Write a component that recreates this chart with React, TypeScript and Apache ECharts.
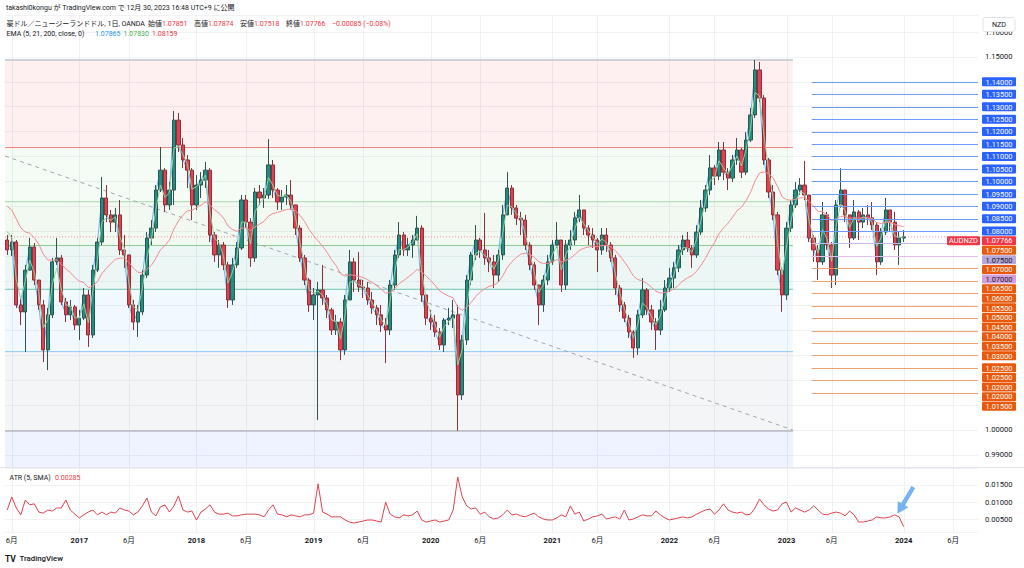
import React, { useEffect, useRef } from "react";
import * as echarts from "echarts";

const FONT = "Roboto, 'Noto Sans CJK JP', sans-serif";

// ---- two-week candle slots ----
const SLOT_START = "2016-05-13";
const SLOT_DAYS = 14;
const SLOT_COUNT = 216;
const TRADING_DAYS_PER_SLOT = 10;

const firstOpen = 1.0764;
const closes = [
  1.0724, 1.0756, 1.0503, 1.0475, 1.0643, 1.0736, 1.0603, 1.0503, 1.0322, 1.0463,
  1.0676, 1.0692, 1.0515, 1.0463, 1.0495, 1.0422, 1.045, 1.0543, 1.0382, 1.0643,
  1.0756, 1.0933, 1.0865, 1.0836, 1.0865, 1.0724, 1.0704, 1.0503, 1.0434, 1.0475,
  1.0623, 1.0772, 1.0812, 1.0965, 1.1045, 1.0905, 1.0965, 1.1246, 1.1146, 1.1086,
  1.1045, 1.0905, 1.0985, 1.1005, 1.1045, 1.0784, 1.0704, 1.0744, 1.0664, 1.0523,
  1.0664, 1.0732, 1.0925, 1.0836, 1.0692, 1.0957, 1.0933, 1.0945, 1.1066, 1.0965,
  1.0917, 1.0937, 1.0945, 1.0905, 1.0812, 1.0692, 1.0603, 1.0503, 1.0543, 1.0563,
  1.0531, 1.0483, 1.0402, 1.0434, 1.0322, 1.0523, 1.0676, 1.0603, 1.0575, 1.0571,
  1.0523, 1.0491, 1.0463, 1.0422, 1.0402, 1.0583, 1.0704, 1.0784, 1.0724, 1.0744,
  1.0764, 1.0812, 1.0543, 1.045, 1.0434, 1.0394, 1.0342, 1.0442, 1.045, 1.0463,
  1.0141, 1.0362, 1.0603, 1.0704, 1.0764, 1.0724, 1.0692, 1.0676, 1.0623, 1.0704,
  1.0865, 1.0973, 1.0893, 1.0852, 1.0844, 1.0744, 1.0664, 1.0583, 1.0503, 1.0603,
  1.0676, 1.0744, 1.0764, 1.0583, 1.0744, 1.0764, 1.0853, 1.0885, 1.0812, 1.0784,
  1.0764, 1.0724, 1.0784, 1.0744, 1.0692, 1.0571, 1.0503, 1.045, 1.0394, 1.033,
  1.0463, 1.0563, 1.0483, 1.0434, 1.0402, 1.0483, 1.0571, 1.0611, 1.0652, 1.0724,
  1.0764, 1.0732, 1.0704, 1.0796, 1.0893, 1.0965, 1.1054, 1.1021, 1.1126, 1.1037,
  1.1013, 1.1086, 1.1126, 1.1037, 1.1166, 1.1267, 1.1448, 1.1335, 1.1086, 1.0957,
  1.0865, 1.0643, 1.0543, 1.0812, 1.0905, 1.0965, 1.0985, 1.0945, 1.0772, 1.0724,
  1.0676, 1.0865, 1.0744, 1.0623, 1.0905, 1.0965, 1.0865, 1.0772, 1.0877, 1.0836,
  1.0865, 1.0853, 1.0824, 1.0676, 1.0796, 1.0885, 1.0836, 1.0744, 1.0772, 1.07766,
];
const highs = [
  1.0784, 1.0784, 1.0764, 1.0531, 1.0664, 1.0772, 1.0752, 1.0603, 1.0523, 1.0491,
  1.0692, 1.0772, 1.0704, 1.0531, 1.0523, 1.0503, 1.0483, 1.0571, 1.0563, 1.0664,
  1.0772, 1.1017, 1.0985, 1.0885, 1.0893, 1.0925, 1.0784, 1.0704, 1.0523, 1.0503,
  1.0643, 1.0796, 1.0844, 1.0985, 1.1138, 1.1053, 1.0997, 1.1283, 1.1275, 1.1174,
  1.1106, 1.1053, 1.1025, 1.1037, 1.1078, 1.1053, 1.0796, 1.0764, 1.0756, 1.0676,
  1.0692, 1.0756, 1.0945, 1.0945, 1.0852, 1.0973, 1.0985, 1.0973, 1.117, 1.1086,
  1.0973, 1.0965, 1.0985, 1.1005, 1.0905, 1.0824, 1.0704, 1.0611, 1.0571, 1.0595,
  1.0664, 1.0543, 1.0491, 1.0463, 1.045, 1.0543, 1.0724, 1.0692, 1.0716, 1.0603,
  1.0595, 1.0555, 1.0503, 1.0503, 1.045, 1.0603, 1.0724, 1.0836, 1.0796, 1.0772,
  1.0784, 1.0861, 1.0824, 1.0543, 1.0483, 1.0463, 1.041, 1.045, 1.0491, 1.0523,
  1.0503, 1.0382, 1.0623, 1.0716, 1.0824, 1.0772, 1.0873, 1.0724, 1.0704, 1.0724,
  1.0905, 1.1037, 1.0985, 1.0905, 1.0877, 1.0865, 1.0756, 1.0676, 1.0583, 1.0623,
  1.0704, 1.0764, 1.0836, 1.0764, 1.0764, 1.0804, 1.0877, 1.0945, 1.0885, 1.0824,
  1.0812, 1.0772, 1.0812, 1.0812, 1.0756, 1.0704, 1.0583, 1.0515, 1.0463, 1.0402,
  1.0483, 1.0611, 1.0571, 1.0503, 1.045, 1.0523, 1.0603, 1.0652, 1.0676, 1.0744,
  1.0784, 1.0796, 1.0744, 1.0824, 1.0925, 1.0985, 1.1106, 1.1066, 1.1158, 1.1158,
  1.1053, 1.1106, 1.1174, 1.1134, 1.1198, 1.1295, 1.1488, 1.148, 1.1347, 1.1094,
  1.0985, 1.0877, 1.0652, 1.0836, 1.0925, 1.0997, 1.1013, 1.1082, 1.0945, 1.0784,
  1.0744, 1.0917, 1.0877, 1.0756, 1.0925, 1.1053, 1.0965, 1.0865, 1.0925, 1.0885,
  1.0893, 1.0905, 1.0917, 1.0836, 1.0812, 1.0933, 1.0885, 1.0877, 1.0796, 1.0804,
];
const lows = [
  1.0704, 1.07, 1.0491, 1.0422, 1.0314, 1.064, 1.0583, 1.0483, 1.0273, 1.0241,
  1.045, 1.0664, 1.0503, 1.0434, 1.0442, 1.0402, 1.0362, 1.0442, 1.0334, 1.037,
  1.0635, 1.0744, 1.0836, 1.0796, 1.0796, 1.0704, 1.0652, 1.0491, 1.0402, 1.0374,
  1.0463, 1.0611, 1.0744, 1.0796, 1.0957, 1.0877, 1.0885, 1.0905, 1.1118, 1.1053,
  1.0973, 1.0844, 1.0885, 1.0933, 1.0973, 1.0756, 1.0676, 1.0652, 1.0643, 1.0491,
  1.0503, 1.0652, 1.0724, 1.0812, 1.0656, 1.0676, 1.0905, 1.0893, 1.093, 1.0933,
  1.0885, 1.0885, 1.0905, 1.0885, 1.0784, 1.0676, 1.0583, 1.0475, 1.0442, 1.004,
  1.0503, 1.045, 1.0382, 1.0382, 1.0281, 1.0302, 1.0523, 1.0555, 1.0555, 1.0531,
  1.0503, 1.0467, 1.0422, 1.0394, 1.0269, 1.0382, 1.0563, 1.0692, 1.07, 1.07,
  1.0692, 1.0764, 1.0515, 1.0422, 1.0402, 1.0374, 1.0322, 1.0314, 1.0422, 1.041,
  0.9997, 1.0121, 1.0342, 1.0583, 1.0684, 1.0692, 1.0664, 1.0635, 1.0571, 1.0595,
  1.0684, 1.0865, 1.0865, 1.0824, 1.0784, 1.0724, 1.0643, 1.0563, 1.0422, 1.0475,
  1.0583, 1.0664, 1.0732, 1.0555, 1.0563, 1.0724, 1.0744, 1.0836, 1.0784, 1.0744,
  1.0732, 1.0635, 1.0704, 1.0716, 1.0676, 1.0543, 1.0475, 1.0434, 1.037, 1.029,
  1.0302, 1.045, 1.0463, 1.0402, 1.0322, 1.0382, 1.0475, 1.0555, 1.0571, 1.0635,
  1.0704, 1.0716, 1.0652, 1.0692, 1.0784, 1.0877, 1.0945, 1.0985, 1.1005, 1.1005,
  1.0965, 1.0997, 1.1066, 1.1013, 1.1025, 1.1158, 1.1255, 1.1319, 1.1066, 1.0933,
  1.0844, 1.0623, 1.0475, 1.0523, 1.0796, 1.0893, 1.0945, 1.0925, 1.0756, 1.0676,
  1.0603, 1.0664, 1.0724, 1.0571, 1.0583, 1.0893, 1.0836, 1.0732, 1.0764, 1.0764,
  1.0812, 1.0824, 1.0804, 1.0623, 1.0664, 1.0784, 1.0796, 1.0724, 1.0664, 1.0756,
];
const atrValues = [
  0.0077, 0.0115, 0.0083, 0.0063, 0.0106, 0.0092, 0.0095, 0.0071, 0.0068, 0.0077,
  0.0074, 0.0083, 0.0083, 0.0106, 0.0077, 0.0065, 0.0054, 0.0063, 0.0071, 0.0077,
  0.0063, 0.0071, 0.0063, 0.0071, 0.0068, 0.0083, 0.0077, 0.0074, 0.0063, 0.0071,
  0.0089, 0.0112, 0.0071, 0.006, 0.0086, 0.0092, 0.0071, 0.0089, 0.0118, 0.0077,
  0.0071, 0.0074, 0.0048, 0.0071, 0.008, 0.0092, 0.0071, 0.0065, 0.0065, 0.0068,
  0.006, 0.006, 0.0063, 0.0065, 0.0065, 0.0065, 0.0063, 0.0057, 0.0077, 0.0092,
  0.0065, 0.0063, 0.0057, 0.0063, 0.006, 0.0057, 0.0063, 0.0063, 0.0068, 0.0153,
  0.0071, 0.0065, 0.0057, 0.0057, 0.0057, 0.0048, 0.0042, 0.0039, 0.0042, 0.0045,
  0.0048, 0.0048, 0.0045, 0.0042, 0.01, 0.0065, 0.0057, 0.0054, 0.0063, 0.006,
  0.0063, 0.0074, 0.0048, 0.0042, 0.0045, 0.0048, 0.0042, 0.0045, 0.0048, 0.0077,
  0.0173, 0.0115, 0.0089, 0.008, 0.0083, 0.0065, 0.0071, 0.0057, 0.0051, 0.0054,
  0.0063, 0.0077, 0.0063, 0.0065, 0.006, 0.0057, 0.0063, 0.0068, 0.0057, 0.0051,
  0.0048, 0.0048, 0.0054, 0.0063, 0.0057, 0.0089, 0.0065, 0.0071, 0.0045, 0.0051,
  0.0057, 0.006, 0.0065, 0.0051, 0.0054, 0.0057, 0.0051, 0.0077, 0.0048, 0.0051,
  0.0057, 0.0063, 0.006, 0.006, 0.0074, 0.0063, 0.0054, 0.0048, 0.0051, 0.0054,
  0.0057, 0.0054, 0.0057, 0.0065, 0.0071, 0.0077, 0.008, 0.0065, 0.0077, 0.0095,
  0.0077, 0.0071, 0.0068, 0.0071, 0.0063, 0.0065, 0.0083, 0.0109, 0.0092, 0.008,
  0.0074, 0.0077, 0.0095, 0.01, 0.0071, 0.0083, 0.0077, 0.0071, 0.0077, 0.0089,
  0.0077, 0.0065, 0.0063, 0.0068, 0.0071, 0.0068, 0.006, 0.0074, 0.0063, 0.0042,
  0.0042, 0.0045, 0.0048, 0.0057, 0.0054, 0.0054, 0.0057, 0.0063, 0.0057, 0.00285,
];

const emaPeriods = [5, 21, 200];
const emaSeed = 1.0917;
const emaColors = ["#42a5f5", "#8fd19e", "#f58a8f"];
const emaLegendValues = ["1.07865", "1.07830", "1.08159"];
const emaLegendColors = ["#2196f3", "#4caf50", "#f23645"];

const fibHigh = 1.1488;
const fibLow = 0.9996;
const fibLevels = [0, 0.236, 0.382, 0.5, 0.618, 0.786, 1, 1.618];
const fibFills = [
  "rgba(242,54,69,0.08)",
  "rgba(129,199,132,0.08)",
  "rgba(76,175,80,0.08)",
  "rgba(8,153,129,0.08)",
  "rgba(33,150,243,0.06)",
  "rgba(120,123,134,0.08)",
  "rgba(41,98,255,0.08)",
];
const fibLineColors = ["#cfd1d6", "#f0857d", "#a9d8ab", "#8fcb92", "#6cc0ad", "#90caf9", "#9a9da8", "#7ea2ff"];
const fibEndSlot = 174.4;
const trendStartPrice = 1.1102;
const trendEndSlot = 174.4;
const trendEndPrice = 1.0;

const rayStartSlot = 178.6;
const blueLevels = [1.14, 1.135, 1.13, 1.125, 1.12, 1.115, 1.11, 1.105, 1.1, 1.095, 1.09, 1.085, 1.08];
const purpleLevels = [1.075, 1.07];
const purpleLineColors = ["#c9b8ea", "#e3bfe9"];
const purpleLabelColors = ["#b7a7dc", "#d3a0dd"];
const orangeLevels = [1.075, 1.07, 1.065, 1.06, 1.055, 1.05, 1.045, 1.04, 1.035, 1.03, 1.025, 1.025, 1.02, 1.02, 1.015];
const lastPrice = 1.07766;
const symbolName = "AUDNZD";

const headerLine = "takashi0kongu が TradingView.com で 12月 30, 2023 16:48 UTC+9 に公開";
const instrumentName = "豪ドル／ニュージーランドドル, 1日, OANDA";
const ohlcLabels = ["始値", "高値", "安値", "終値"];
const ohlcValues = ["1.07851", "1.07874", "1.07518", "1.07766"];
const changeText = "−0.00085 (−0.08%)";
const emaLegendTitle = "EMA (5, 21, 200, close, 0)";
const atrTitle = "ATR (5, SMA)";
const atrLast = "0.00285";
const arrowTail = [201.1, 0.0143];
const arrowTip = [197.7, 0.0068];

// header layout (pixel positions of legend items)
const ohlcX = [148, 194, 240, 286];
const changeX = 332;
const emaValueX = [95, 123.5, 152];

// ---- derived structures ----
const DAY = 86400000;
const t0 = Date.parse(SLOT_START + "T00:00:00Z");
const slotDates: string[] = [];
const slotLabels: string[] = [];
for (let i = 0; i < SLOT_COUNT; i++) {
  const t = t0 + i * SLOT_DAYS * DAY;
  const d = new Date(t);
  slotDates.push(d.toISOString().slice(0, 10));
  const first = d.getUTCDate() === 1 ? t : Date.UTC(d.getUTCFullYear(), d.getUTCMonth() + 1, 1);
  let lab = "";
  if (first < t + SLOT_DAYS * DAY) {
    const fd = new Date(first);
    if (fd.getUTCMonth() === 0) lab = "{y|" + fd.getUTCFullYear() + "}";
    else if (fd.getUTCMonth() === 5) lab = "{m|6月}";
  }
  slotLabels.push(lab);
}

const candleData = closes.map((c, i) => {
  const o = i === 0 ? firstOpen : closes[i - 1];
  return [o, c, Math.min(lows[i], o, c), Math.max(highs[i], o, c)];
});

function emaSeries(period: number) {
  const a = 1 - Math.pow(1 - 2 / (period + 1), TRADING_DAYS_PER_SLOT);
  let v = emaSeed;
  return closes.map((c) => {
    v = v + a * (c - v);
    return +v.toFixed(5);
  });
}

function gridVerticals(cs: any, xAt: (s: number) => number) {
  const out: any[] = [];
  slotLabels.forEach((l, i) => {
    if (!l) return;
    const x = Math.round(xAt(i)) + 0.5;
    out.push({
      type: "line",
      shape: { x1: x, y1: cs.y, x2: x, y2: cs.y + cs.height },
      style: { stroke: "#eef0f4", lineWidth: 1 },
    });
  });
  return out;
}

function renderBg(params: any, api: any) {
  const cs = params.coordSys;
  const bw = api.size([1, 0])[0];
  const c0 = api.coord([0, fibHigh])[0];
  const xAt = (s: number) => c0 + s * bw;
  const yAt = (p: number) => api.coord([0, p])[1];
  const left = cs.x;
  const top = cs.y;
  const bottom = cs.y + cs.height;
  const right = xAt(fibEndSlot);
  const children: any[] = gridVerticals(cs, xAt);
  const range = fibHigh - fibLow;
  const ys = fibLevels.map((l) => yAt(fibHigh - l * range));
  for (let k = 0; k < fibLevels.length - 1; k++) {
    const y1 = Math.max(top, ys[k]);
    const y2 = Math.min(bottom, ys[k + 1]);
    if (y2 > y1) {
      children.push({
        type: "rect",
        shape: { x: left, y: y1, width: right - left, height: y2 - y1 },
        style: { fill: fibFills[k] },
      });
    }
  }
  for (let k = 0; k < fibLevels.length; k++) {
    if (ys[k] < top || ys[k] > bottom) continue;
    children.push({
      type: "line",
      shape: { x1: left, y1: ys[k], x2: right, y2: ys[k] },
      style: { stroke: fibLineColors[k], lineWidth: k === 0 ? 2 : 1 },
    });
  }
  children.push({
    type: "line",
    shape: { x1: left, y1: yAt(trendStartPrice), x2: xAt(trendEndSlot), y2: yAt(trendEndPrice) },
    style: { stroke: "#a3a6af", lineWidth: 1, lineDash: [4, 4] },
  });
  return { type: "group", children };
}

function renderFg(params: any, api: any) {
  const cs = params.coordSys;
  const bw = api.size([1, 0])[0];
  const c0 = api.coord([0, lastPrice])[0];
  const xAt = (s: number) => c0 + s * bw;
  const yAt = (p: number) => api.coord([0, p])[1];
  const right = cs.x + cs.width;
  const children: any[] = [];
  const yl = yAt(lastPrice);
  children.push({
    type: "line",
    shape: { x1: cs.x, y1: yl, x2: right, y2: yl },
    style: { stroke: "#f23645", opacity: 0.5, lineWidth: 1, lineDash: [1, 2] },
  });
  const rx = xAt(rayStartSlot);
  const ray = (p: number, color: string) => {
    const y = Math.round(yAt(p)) + 0.5;
    children.push({
      type: "line",
      shape: { x1: rx, y1: y, x2: right, y2: y },
      style: { stroke: color, lineWidth: 1 },
    });
  };
  blueLevels.forEach((p) => ray(p, "#6e9bf4"));
  orangeLevels.forEach((p) => ray(p, "#f3a373"));
  purpleLevels.forEach((p, i) => ray(p, purpleLineColors[i]));

  const labels: any[] = [];
  blueLevels.forEach((p) => labels.push({ p, rank: 0, bg: "#2962ff", fg: "#ffffff" }));
  labels.push({ p: lastPrice, rank: 1, bg: "#f23645", fg: "#ffffff", sym: true });
  orangeLevels.forEach((p) => labels.push({ p, rank: 2, bg: "#e8590c", fg: "#ffffff" }));
  purpleLevels.forEach((p, i) => labels.push({ p, rank: 3, bg: purpleLabelColors[i], fg: "#131722" }));
  labels.sort((a, b) => b.p - a.p || a.rank - b.rank);
  const H = 9;
  const GAP = 9.6;
  const lx = right + 4;
  const lw = 34;
  let prev = -Infinity;
  labels.forEach((l) => {
    const y = Math.max(yAt(l.p), prev + GAP);
    prev = y;
    children.push({
      type: "rect",
      shape: { x: lx, y: y - H / 2, width: lw, height: H, r: 1 },
      style: { fill: l.bg },
    });
    children.push({
      type: "text",
      style: {
        text: l.p.toFixed(5),
        x: lx + lw / 2,
        y: y + 0.3,
        align: "center",
        verticalAlign: "middle",
        fontSize: 7.4,
        fontFamily: FONT,
        fill: l.fg,
      },
    });
    if (l.sym) {
      children.push({
        type: "rect",
        shape: { x: lx - 35, y: y - H / 2, width: 33, height: H, r: 1 },
        style: { fill: l.bg },
      });
      children.push({
        type: "text",
        style: {
          text: symbolName,
          x: lx - 35 + 16.5,
          y: y + 0.3,
          align: "center",
          verticalAlign: "middle",
          fontSize: 7.4,
          fontFamily: FONT,
          fill: l.fg,
        },
      });
    }
  });
  return { type: "group", children };
}

function renderAtrDecor(params: any, api: any) {
  const cs = params.coordSys;
  const bw = api.size([1, 0])[0];
  const c0 = api.coord([0, arrowTip[1]])[0];
  const xAt = (s: number) => c0 + s * bw;
  const children: any[] = gridVerticals(cs, xAt);
  const tip = [xAt(arrowTip[0]), api.coord([0, arrowTip[1]])[1]];
  const tail = [xAt(arrowTail[0]), api.coord([0, arrowTail[1]])[1]];
  const dx = tip[0] - tail[0];
  const dy = tip[1] - tail[1];
  const len = Math.sqrt(dx * dx + dy * dy);
  const ux = dx / len;
  const uy = dy / len;
  const nx = -uy;
  const ny = ux;
  const headLen = 10;
  const headHalf = 5.5;
  const shaftHalf = 1.8;
  const bx = tip[0] - ux * headLen;
  const by = tip[1] - uy * headLen;
  children.push({
    type: "polygon",
    shape: {
      points: [
        [tail[0] + nx * shaftHalf, tail[1] + ny * shaftHalf],
        [bx + nx * shaftHalf, by + ny * shaftHalf],
        [bx + nx * headHalf, by + ny * headHalf],
        [tip[0], tip[1]],
        [bx - nx * headHalf, by - ny * headHalf],
        [bx - nx * shaftHalf, by - ny * shaftHalf],
        [tail[0] - nx * shaftHalf, tail[1] - ny * shaftHalf],
      ],
    },
    style: { fill: "#76b5f2", stroke: "#5a9fe6", lineWidth: 0.6 },
  });
  return { type: "group", children };
}

function isHundredth(v: number) {
  return Math.abs(v * 100 - Math.round(v * 100)) < 1e-6;
}

export default function App() {
  const ref = useRef<HTMLDivElement>(null);
  useEffect(() => {
    if (!ref.current) return;
    const chart = echarts.init(ref.current, undefined, { renderer: "svg" });
    const emas = emaPeriods.map((p) => emaSeries(p));
    const text = (x: number, y: number, style: any, z = 50) => ({
      type: "text",
      x,
      y,
      z,
      style: { fontFamily: FONT, fill: "#131722", verticalAlign: "middle", fontSize: 7, ...style },
    });
    const redRich = { r: { fill: "#f23645", fontSize: 7, fontFamily: FONT } };
    const headerItems: any[] = [
      text(6, 7.5, { text: headerLine }),
      text(6.5, 24.3, { text: instrumentName }),
      ...ohlcLabels.map((l, i) => text(ohlcX[i], 24.3, { text: l + "{r|" + ohlcValues[i] + "}", rich: redRich })),
      text(changeX, 24.3, { text: changeText, fill: "#f23645" }),
      text(6.5, 33.5, { text: emaLegendTitle }),
      ...emaLegendValues.map((v, i) => text(emaValueX[i], 33.5, { text: v, fill: emaLegendColors[i] })),
      text(9.5, 478, { text: atrTitle }),
      text(55, 478, { text: atrLast, fill: "#f23645" }),
    ];
    const option: any = {
      animation: false,
      backgroundColor: "#ffffff",
      grid: [
        { left: 5, right: 46, top: 15, height: 452, outerBoundsMode: "none", containLabel: false },
        { left: 5, right: 46, top: 468, height: 64, outerBoundsMode: "none", containLabel: false },
      ],
      xAxis: [
        {
          type: "category",
          gridIndex: 0,
          data: slotDates,
          boundaryGap: true,
          axisLine: { show: false },
          axisTick: { show: false },
          axisLabel: { show: false },
          splitLine: { show: false },
        },
        {
          type: "category",
          gridIndex: 1,
          data: slotDates,
          boundaryGap: true,
          axisLine: { show: false },
          axisTick: { show: false },
          splitLine: { show: false },
          axisLabel: {
            interval: (i: number) => slotLabels[i] !== "",
            formatter: (_v: string, i: number) => slotLabels[i],
            margin: 5,
            hideOverlap: false,
            rich: {
              y: { fontWeight: "bold", fontSize: 7.6, color: "#131722", fontFamily: FONT },
              m: { fontSize: 7.6, color: "#131722", fontFamily: FONT },
            },
          },
        },
      ],
      yAxis: [
        {
          type: "value",
          gridIndex: 0,
          position: "right",
          min: 0.98512,
          max: 1.16689,
          splitNumber: 18,
          axisLine: { show: false },
          axisTick: { show: false },
          splitLine: { show: true, lineStyle: { color: "#f0f2f6", width: 1 } },
          axisLabel: {
            margin: 7,
            fontSize: 7.6,
            color: "#131722",
            fontFamily: FONT,
            showMinLabel: false,
            showMaxLabel: false,
            formatter: (v: number) => (isHundredth(v) && (v >= 1.145 || v <= 1.005) ? v.toFixed(5) : ""),
          },
        },
        {
          type: "value",
          gridIndex: 1,
          position: "right",
          min: 0.00131,
          max: 0.01991,
          splitNumber: 4,
          axisLine: { show: false },
          axisTick: { show: false },
          splitLine: { show: true, lineStyle: { color: "#f0f2f6", width: 1 } },
          axisLabel: {
            margin: 7,
            fontSize: 7.6,
            color: "#131722",
            fontFamily: FONT,
            showMinLabel: false,
            showMaxLabel: false,
            formatter: (v: number) => (Math.abs(v * 200 - Math.round(v * 200)) < 1e-6 ? v.toFixed(5) : ""),
          },
        },
      ],
      series: [
        {
          type: "custom",
          name: "fib",
          xAxisIndex: 0,
          yAxisIndex: 0,
          z: 1,
          silent: true,
          data: [[0, fibHigh]],
          renderItem: renderBg,
        },
        {
          type: "line",
          name: "EMA5",
          xAxisIndex: 0,
          yAxisIndex: 0,
          z: 2,
          data: emas[0],
          showSymbol: false,
          silent: true,
          lineStyle: { color: emaColors[0], width: 1, opacity: 0.8 },
        },
        {
          type: "candlestick",
          name: "AUDNZD",
          xAxisIndex: 0,
          yAxisIndex: 0,
          z: 3,
          data: candleData,
          barWidth: 3.7,
          silent: true,
          itemStyle: {
            color: "#1f8f82",
            color0: "#e5404f",
            borderColor: "#2f5450",
            borderColor0: "#8e2f3c",
            borderWidth: 1,
          },
        },
        {
          type: "line",
          name: "EMA21",
          xAxisIndex: 0,
          yAxisIndex: 0,
          z: 4,
          data: emas[1],
          showSymbol: false,
          silent: true,
          lineStyle: { color: emaColors[1], width: 1 },
        },
        {
          type: "line",
          name: "EMA200",
          xAxisIndex: 0,
          yAxisIndex: 0,
          z: 4,
          data: emas[2],
          showSymbol: false,
          silent: true,
          lineStyle: { color: emaColors[2], width: 1 },
        },
        {
          type: "custom",
          name: "rays",
          xAxisIndex: 0,
          yAxisIndex: 0,
          z: 6,
          silent: true,
          clip: false,
          data: [[0, lastPrice]],
          renderItem: renderFg,
        },
        {
          type: "custom",
          name: "atrDecor",
          xAxisIndex: 1,
          yAxisIndex: 1,
          z: 1,
          silent: true,
          clip: false,
          data: [[0, 0.005]],
          renderItem: renderAtrDecor,
        },
        {
          type: "line",
          name: "ATR",
          xAxisIndex: 1,
          yAxisIndex: 1,
          z: 3,
          data: atrValues,
          showSymbol: false,
          silent: true,
          lineStyle: { color: "#e0424f", width: 1 },
        },
      ],
      graphic: [
        { type: "line", z: 40, shape: { x1: 0, y1: 467.5, x2: 1024, y2: 467.5 }, style: { stroke: "#e3e5ea", lineWidth: 1 } },
        ...headerItems,
        {
          type: "rect",
          z: 100,
          shape: { x: 983, y: 17.5, width: 32, height: 14, r: 2 },
          style: { fill: "#ffffff", stroke: "#e0e3eb", lineWidth: 1 },
        },
        text(999, 24.8, { text: "NZD", align: "center", fontSize: 7.2 }, 101),
        text(5, 558.5, { text: "TV", fontSize: 8.5, fontWeight: "bold" }),
        text(19.5, 558.5, { text: "TradingView", fontSize: 7.8, fontWeight: 500 }),
      ],
    };
    chart.setOption(option);
    return () => chart.dispose();
  }, []);
  return (
    <div
      ref={ref}
      style={{ position: "fixed", left: 0, top: 0, width: 1024, height: 568, background: "#ffffff" }}
    />
  );
}
